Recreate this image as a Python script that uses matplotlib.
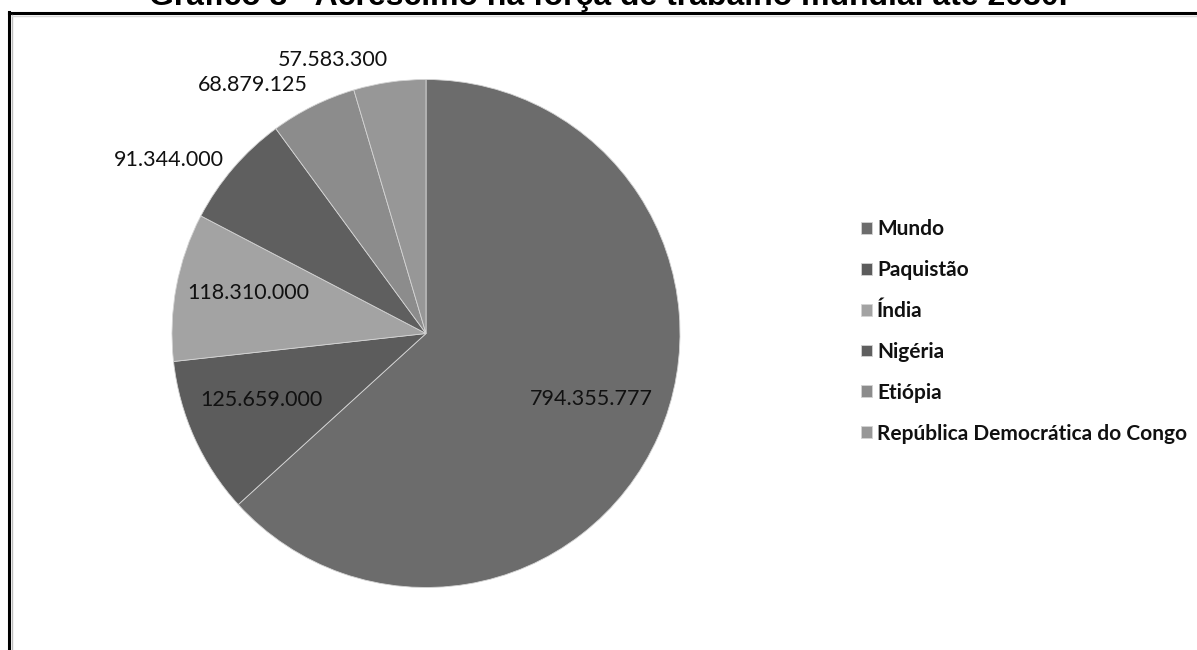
import matplotlib
matplotlib.use("Agg")
import numpy as np
import matplotlib.pyplot as plt
from matplotlib.lines import Line2D

# Acréscimo na força de trabalho até 2030
paises = ["Mundo", "Paquistão", "Índia", "Nigéria", "Etiópia",
          "República Democrática do Congo"]
valores = [794355777, 125659000, 118310000, 91344000, 68879125, 57583300]
rotulos = ["794.355.777", "125.659.000", "118.310.000", "91.344.000",
           "68.879.125", "57.583.300"]
cores = ["#6c6c6c", "#5c5c5c", "#a3a3a3", "#5f5f5f", "#8c8c8c", "#979797"]
# rótulo dentro da fatia (True) ou fora (False)
dentro = [True, True, True, False, False, False]

W, H = 1197, 650
fig = plt.figure(figsize=(W / 100, H / 100), dpi=100)
fig.patch.set_facecolor("white")

# pizza centrada em (426, 333) px, raio 254 px
cx, cy, r = 426, 333.5, 254
ax = fig.add_axes([(cx - r) / W, (H - cy - r) / H, 2 * r / W, 2 * r / H])
wedges, _ = ax.pie(valores, colors=cores, startangle=90, counterclock=False,
                   radius=1.0,
                   wedgeprops=dict(edgecolor="#d4d4d4", linewidth=0.6))
ax.set_xlim(-1, 1)
ax.set_ylim(-1, 1)
ax.set_aspect("equal")
ax.axis("off")

fonte = "Lato"
tam = 15.5
for w, txt, inside in zip(wedges, rotulos, dentro):
    ang = np.deg2rad((w.theta1 + w.theta2) / 2)
    if inside:
        d = 0.71
        ax.text(d * np.cos(ang), d * np.sin(ang) + 0.03, txt, ha="center",
                va="center", fontsize=tam, family=fonte, color="#111111")
    else:
        d = 1.05
        x, y = d * np.cos(ang), d * np.sin(ang)
        va = "bottom" if y > 0.8 else "center"
        ax.text(x, y, txt, ha="right", va=va, fontsize=tam, family=fonte,
                color="#111111", clip_on=False)

leg = fig.legend(wedges, paises, loc="upper left",
                 bbox_to_anchor=(853 / W, 1 - 211 / H),
                 frameon=False,
                 prop=dict(family=fonte, size=15, weight="bold"),
                 handlelength=0.5, handleheight=0.5, handletextpad=0.25,
                 labelspacing=1.0, borderaxespad=0)
for t in leg.get_texts():
    t.set_color("#111111")

# moldura do gráfico
fig.add_artist(Line2D([9 / W, 9 / W], [0, 1 - 12 / H], color="black",
                      linewidth=2.2, transform=fig.transFigure))
fig.add_artist(Line2D([9 / W, 1], [1 - 13 / H, 1 - 13 / H], color="black",
                      linewidth=2.2, transform=fig.transFigure))
fig.add_artist(Line2D([11.5 / W, 11.5 / W], [0, 1 - 15 / H], color="#bdbdbd",
                      linewidth=1.0, transform=fig.transFigure))
fig.add_artist(Line2D([11.5 / W, 1], [1 - 15.5 / H, 1 - 15.5 / H],
                      color="#d8d8d8", linewidth=1.0, transform=fig.transFigure))

fig.text(608 / W, 1 - 5 / H,
         "Gráfico 3 - Acréscimo na força de trabalho mundial até 2030.",
         ha="center", va="baseline", fontsize=23, fontweight="bold",
         family="Liberation Sans", color="black")

fig.savefig("out.png", dpi=100)
